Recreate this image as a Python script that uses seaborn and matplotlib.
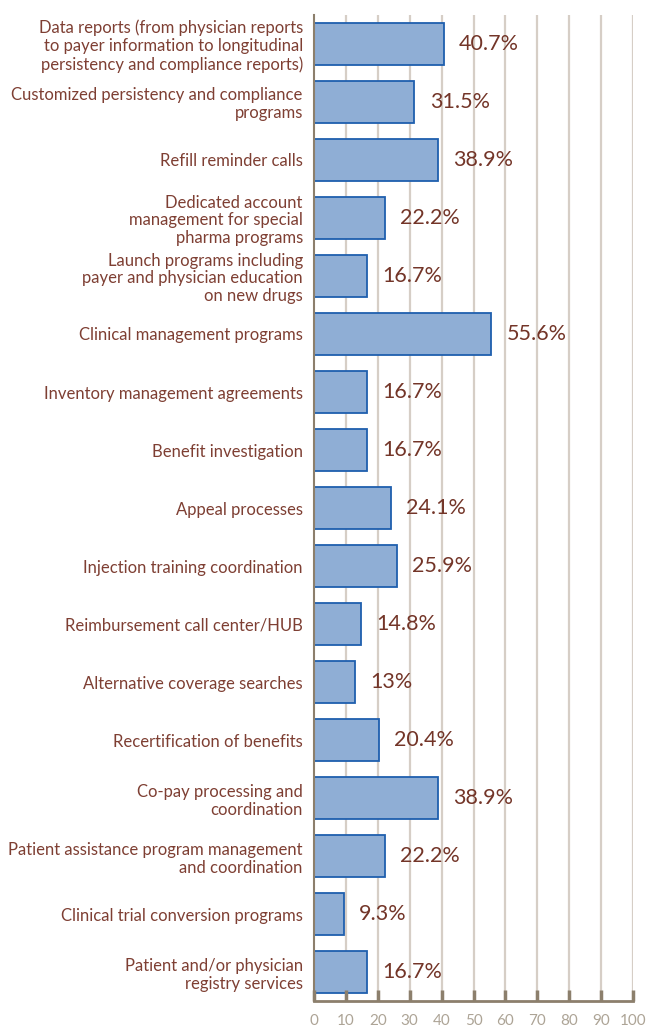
import pandas as pd
import matplotlib.pyplot as plt
import seaborn as sns

categories = [
    "Data reports (from physician reports\nto payer information to longitudinal\npersistency and compliance reports)",
    "Customized persistency and compliance\nprograms",
    "Refill reminder calls",
    "Dedicated account\nmanagement for special\npharma programs",
    "Launch programs including\npayer and physician education\non new drugs",
    "Clinical management programs",
    "Inventory management agreements",
    "Benefit investigation",
    "Appeal processes",
    "Injection training coordination",
    "Reimbursement call center/HUB",
    "Alternative coverage searches",
    "Recertification of benefits",
    "Co-pay processing and\ncoordination",
    "Patient assistance program management\nand coordination",
    "Clinical trial conversion programs",
    "Patient and/or physician\nregistry services",
]
values = [40.7, 31.5, 38.9, 22.2, 16.7, 55.6, 16.7, 16.7, 24.1, 25.9,
          14.8, 13, 20.4, 38.9, 22.2, 9.3, 16.7]
value_labels = ["40.7%", "31.5%", "38.9%", "22.2%", "16.7%", "55.6%", "16.7%",
                "16.7%", "24.1%", "25.9%", "14.8%", "13%", "20.4%", "38.9%",
                "22.2%", "9.3%", "16.7%"]
xticks = list(range(0, 101, 10))

df = pd.DataFrame({"category": categories, "value": values})

sns.set_style("white")
plt.rcParams['font.family'] = ['Lato', 'DejaVu Sans']

label_color = '#7e3f33'
axis_color = '#8c7f6c'
grid_color = '#d6cec6'

fig = plt.figure(figsize=(6.5, 10.31), dpi=100)
ax = fig.add_axes([0.483, 0.029, 0.491, 0.9565])

for x in xticks[1:]:
    ax.axvline(x, color=grid_color, lw=1.6, zorder=0)

sns.barplot(data=df, y="category", x="value", orient="h", ax=ax,
            color='#8faed5', edgecolor='#1f5fae', linewidth=1.3,
            width=0.72, saturation=1, zorder=2)

for i, (v, lab) in enumerate(zip(values, value_labels)):
    ax.text(v + 4.8, i, lab, va='center', ha='left', fontsize=15.5,
            color='#733528', zorder=5)

ax.set_xlim(0, 100)
ax.set_ylim(16.5, -0.5)
ax.set_xticks(xticks)
ax.set_xticklabels([str(t) for t in xticks], color='#ada496', fontsize=11)
ax.set_xlabel('')
ax.set_ylabel('')
ax.tick_params(axis='x', bottom=True, direction='in', length=8, width=2.5,
               color=axis_color, pad=9)
ax.tick_params(axis='y', left=False, length=0, pad=8, labelsize=12,
               labelcolor=label_color)
for lbl in ax.get_yticklabels():
    lbl.set_multialignment('right')
    lbl.set_linespacing(1.15)

for s in ['top', 'right']:
    ax.spines[s].set_visible(False)
ax.spines['bottom'].set_color(axis_color)
ax.spines['bottom'].set_linewidth(2)
ax.spines['left'].set_color(axis_color)
ax.spines['left'].set_linewidth(1.5)
ax.set_axisbelow(False)

plt.savefig('out.png', dpi=100)
